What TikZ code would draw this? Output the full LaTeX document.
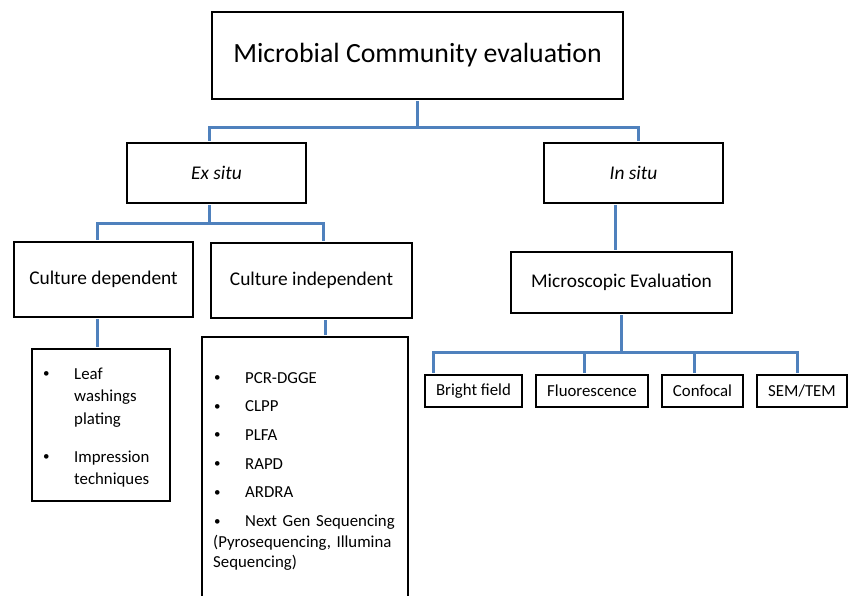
\documentclass[tikz,border=0pt]{standalone}
\usepackage{fontspec}
\setmainfont{Carlito}
\definecolor{linkblue}{RGB}{79,129,189}
\newcommand{\itembul}{\makebox[31pt][l]{\raisebox{1.5pt}{\fontsize{13}{13}\selectfont\textbullet}}}

\begin{document}
\begin{tikzpicture}[x=1pt, y=-1pt,
	box/.style={draw, line width=2.4pt, inner sep=0pt, align=center},
	wire/.style={draw=linkblue, line width=3pt, shorten <=1.2pt, shorten >=1.2pt},
	toptext/.style={font=\fontsize{27.8}{33}\selectfont},
	midtext/.style={font=\fontsize{19.4}{23}\selectfont},
	smalltext/.style={font=\fontsize{16.8}{20}\selectfont}]
	\useasboundingbox (0, 0) rectangle (849, 596);
	\clip (0, 0) rectangle (849, 596);
	% Boxes:
	\node[box, toptext, line width=2.2pt, minimum width=411pt, minimum height=87pt] (top) at (417.5, 55.5){Microbial Community evaluation};
	\node[box, midtext, minimum width=179pt, minimum height=60pt] (exsitu) at (216.5, 173){\textit{Ex situ}};
	\node[box, midtext, minimum width=179pt, minimum height=60pt] (insitu) at (633.5, 173){\textit{In situ}};
	\node[box, midtext, minimum width=179pt, minimum height=75pt] (cdep) at (103.5, 279.5){Culture dependent};
	\node[box, midtext, minimum width=201pt, minimum height=75pt] (cindep) at (311.5, 280.5){Culture independent};
	\node[box, midtext, minimum width=221pt, minimum height=61pt] (micro) at (621.5, 282.5){Microscopic Evaluation};
	\node[box, minimum width=138pt, minimum height=152pt] (leaf) at (101, 425){};
	\node[box, minimum width=206pt, minimum height=264pt] (cindeplist) at (305, 469){};
	\node[box, smalltext, minimum width=97pt, minimum height=32pt] (bright) at (473.5, 391){Bright field};
	\node[box, smalltext, minimum width=112pt, minimum height=32pt] (fluor) at (592, 391){Fluorescence};
	\node[box, smalltext, minimum width=81pt, minimum height=32pt] (confocal) at (702.5, 391){Confocal};
	\node[box, smalltext, minimum width=90pt, minimum height=32pt] (sem) at (802, 391){SEM/TEM};
	% Bullet lists:
	\node[anchor=base west, inner sep=0pt, text width=124pt, align=left, font=\fontsize{16.8}{22.5}\selectfont] (leafitems) at (43, 379){\itembul Leaf\\ \hspace*{31pt}washings\\ \hspace*{31pt}plating\\[15.5pt] \itembul Impression\\ \hspace*{31pt}techniques};
	\node[anchor=base west, inner sep=0pt, text width=190pt, align=left, font=\fontsize{16.8}{20.5}\selectfont] (cindepitems) at (213, 383){\hspace*{1pt}\itembul PCR-DGGE\\[8.2pt] \hspace*{1pt}\itembul CLPP\\[8.2pt] \hspace*{1pt}\itembul PLFA\\[8.2pt] \hspace*{1pt}\itembul RAPD\\[8.2pt] \hspace*{1pt}\itembul ARDRA\\[8.2pt] \hspace*{1pt}\itembul Next Gen Sequencing\\ (Pyrosequencing, Illumina\\ Sequencing)};
	% Wires:
	\draw[wire] (top.south) -- ++(0, 27) coordinate (topbus);
	\draw[wire] ([xshift=-7.5pt]exsitu.north) |- (topbus) -| ([xshift=4.5pt]insitu.north);
	\draw[wire] ([xshift=-7.5pt]exsitu.south) -- ++(0, 19) coordinate (exbus);
	\draw[wire] ([xshift=-6.5pt]cdep.north) |- (exbus) -| ([xshift=11.5pt]cindep.north);
	\draw[wire] ([xshift=-18.5pt]insitu.south) -- ([xshift=-6.5pt]micro.north);
	\draw[wire] ([xshift=-6pt]cdep.south) -- ([xshift=-6pt]cdep.south |- leaf.north);
	\draw[wire] ([xshift=13.5pt]cindep.south) -- ([xshift=13.5pt]cindep.south |- cindeplist.north);
	\draw[wire] (micro.south) -- ++(0, 38) coordinate (microbus);
	\draw[wire] ([xshift=-40.5pt]bright.north) |- (microbus) -| ([xshift=-5pt]sem.north);
	\draw[wire] ([xshift=-8pt]fluor.north) -- ([xshift=-8pt]fluor.north |- microbus);
	\draw[wire] ([xshift=-8.5pt]confocal.north) -- ([xshift=-8.5pt]confocal.north |- microbus);
\end{tikzpicture}
\end{document}
